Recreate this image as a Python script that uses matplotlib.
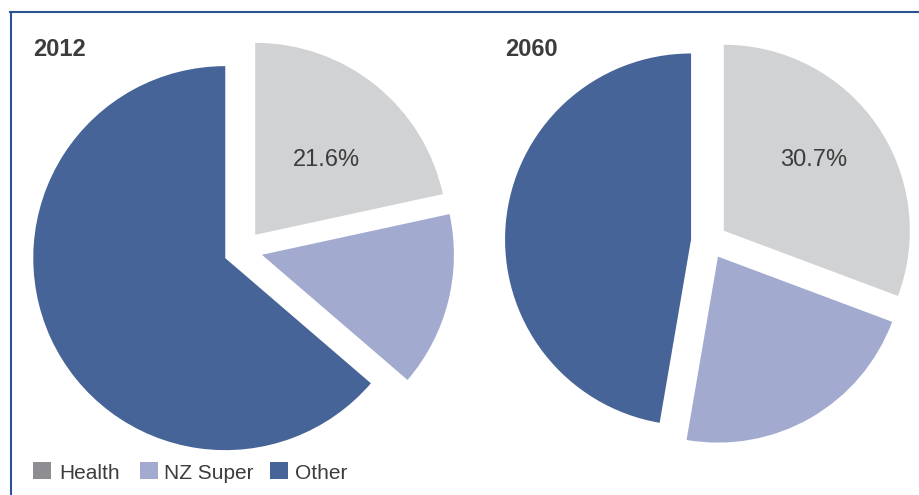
import matplotlib
matplotlib.use("Agg")
import matplotlib.pyplot as plt
from matplotlib.patches import Rectangle
from matplotlib.lines import Line2D

# Share of government spending, by category (%)
categories = ["Health", "NZ Super", "Other"]
years = ["2012", "2060"]
share_2012 = [21.6, 14.7, 63.7]
share_2060 = [30.7, 22.0, 47.3]

pie_colors = ["#D1D2D4", "#A2ABCF", "#466497"]
legend_colors = ["#8E8E92", "#A2ABCF", "#466497"]
text_color = "#3C3C3C"
frame_color = "#2A5393"

W, H = 919, 495
fig = plt.figure(figsize=(W / 100, H / 100), dpi=100)
ax = fig.add_axes([0, 0, 1, 1])

font = "Liberation Sans"


def health_only(values):
    def fmt(pct):
        return f"{values[0]:.1f}%" if abs(pct - values[0]) < 0.05 else ""
    return fmt


# (values, centre px, radius px, wedge offset px, label distance, label nudge px)
pies = [
    (share_2012, (243, H - 250), 192, 19.5, 0.56, (4, -9)),
    (share_2060, (709, H - 241), 186, 18.0, 0.60, (-2, 7)),
]
for values, center, radius, gap, pdist, nudge in pies:
    wedges, texts, autotexts = ax.pie(
        values, colors=pie_colors, startangle=90, counterclock=False,
        explode=[gap] * len(values), center=center, radius=radius,
        autopct=health_only(values), pctdistance=pdist,
        wedgeprops=dict(linewidth=0),
        textprops=dict(fontsize=17, color=text_color, family=font),
    )
    lx, ly = autotexts[0].get_position()
    autotexts[0].set_position((lx + nudge[0], ly + nudge[1]))

# Year titles
ax.text(33, H - 56, years[0], fontsize=17, fontweight="bold",
        color=text_color, family=font, ha="left", va="baseline")
ax.text(505, H - 56, years[1], fontsize=17, fontweight="bold",
        color=text_color, family=font, ha="left", va="baseline")

# Legend
sw_x = [33, 140, 270]
txt_x = [59, 164, 295]
for cat, col, sx, tx in zip(categories, legend_colors, sw_x, txt_x):
    ax.add_patch(Rectangle((sx, H - 479), 18, 17, facecolor=col,
                           edgecolor="none"))
    ax.text(tx, H - 479, cat, fontsize=15, color=text_color, family=font,
            ha="left", va="baseline")

# Frame lines (top and left)
ax.add_line(Line2D([10, W], [H - 11.5, H - 11.5], color=frame_color, lw=1.5))
ax.add_line(Line2D([10.5, 10.5], [0, H - 11.5], color=frame_color, lw=1.5))

ax.set_xlim(0, W)
ax.set_ylim(0, H)
ax.set_aspect("auto")
ax.axis("off")

fig.savefig("out.png", dpi=100, facecolor="white")
